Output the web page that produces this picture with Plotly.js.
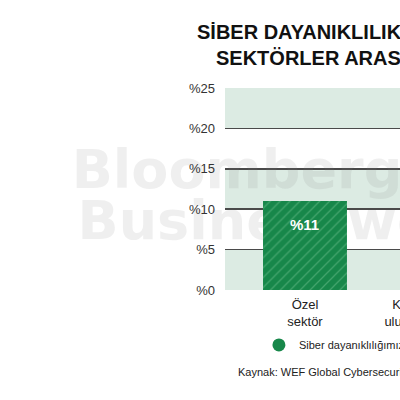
<!DOCTYPE html>
<html>
<head>
<meta charset="utf-8">
<script src="https://cdn.plot.ly/plotly-3.0.1.min.js"></script>
<style>
html, body { margin: 0; padding: 0; width: 400px; height: 400px; overflow: hidden; background: #fff; }
#chart { width: 500px; height: 400px; }
</style>
</head>
<body>
<div id="chart"></div>
<script>
// ---- data ----
const categories = ["Özel<br>sektör", "Kamu ve<br>uluslararası"];
const values = [11, null];
const seriesName = "Siber dayanıklılığımız yetersiz";
const tickValues = [0, 5, 10, 15, 20, 25];
const tickLabels = ["%0", "%5", "%10", "%15", "%20", "%25"];
const bands = [[0, 5], [10, 15], [20, 25]];
const titleLine1 = "SİBER DAYANIKLILIK";
const titleLine2 = "SEKTÖRLER ARASI";
const sourceText = "Kaynak: WEF Global Cybersecurity Outlook 2024";
const watermarkLines = ["Bloomberg", "Businessweek"];

const FONT = "Liberation Sans, Arial, sans-serif";
const barColor = "#17874a";
const stripeColor = "#6fc18f";
const bandColor = "#dcebe3";

const traces = [
  {
    type: "scatter", mode: "text", xaxis: "x", yaxis: "y",
    x: [0.047, 0.262], y: [0.574, 0.317],
    text: watermarkLines, textposition: "middle center",
    textfont: { family: "DejaVu Sans", size: 54, color: "rgba(120,120,120,0.12)", weight: "bold" },
    cliponaxis: false, showlegend: false, hoverinfo: "skip"
  },
  {
    type: "bar", xaxis: "x2", yaxis: "y2",
    x: categories, y: values, width: 0.743,
    marker: {
      color: barColor,
      line: { width: 0 },
      pattern: { shape: "/", fillmode: "overlay", fgcolor: stripeColor, bgcolor: barColor, size: 7, solidity: 0.18 }
    },
    showlegend: false, hoverinfo: "skip"
  },
  {
    type: "scatter", mode: "markers", xaxis: "x2", yaxis: "y2",
    x: [null], y: [null], name: seriesName,
    marker: { color: barColor, size: 13, symbol: "circle" }
  }
];

const shapes = bands.map(b => ({
  type: "rect", xref: "paper", yref: "y2", x0: 0, x1: 1, y0: b[0], y1: b[1],
  fillcolor: bandColor, line: { width: 0 }, layer: "below"
}));

const annotations = values.map((v, i) => v == null ? null : ({
  xref: "x2", yref: "y2", x: categories[i], y: v, yshift: -23,
  text: "%" + v, showarrow: false,
  font: { family: FONT, size: 15, color: "#ffffff", weight: "bold" }
})).filter(a => a);

annotations.push({
  xref: "paper", yref: "paper", x: -0.043, y: 1.149, xanchor: "left", yanchor: "middle",
  text: titleLine2, showarrow: false,
  font: { family: FONT, size: 20, color: "#111111", weight: "bold" }
});
annotations.push({
  xref: "paper", yref: "paper", x: 0.043, y: -0.406, xanchor: "left", yanchor: "middle",
  text: sourceText, showarrow: false,
  font: { family: FONT, size: 11, color: "#222222" }
});

const layout = {
  width: 500, height: 400,
  margin: { l: 225, r: 20, t: 88, b: 110 },
  paper_bgcolor: "#ffffff", plot_bgcolor: "#ffffff",
  font: { family: FONT, color: "#222222" },
  title: {
    text: titleLine1, x: 0.394, xanchor: "left", xref: "container",
    y: 0.92, yanchor: "middle", yref: "container",
    font: { family: FONT, size: 20, color: "#111111", weight: "bold" }
  },
  xaxis: { range: [0, 1], visible: false, fixedrange: true },
  yaxis: { range: [0, 1], visible: false, fixedrange: true },
  xaxis2: {
    overlaying: "x", type: "category", range: [-0.708, 1.549],
    showgrid: false, zeroline: false, showline: false, ticks: "",
    tickfont: { family: FONT, size: 13, color: "#222222" }, ticklabelstandoff: 5
  },
  yaxis2: {
    overlaying: "y", side: "left", range: [0, 25],
    tickvals: tickValues, ticktext: tickLabels,
    showgrid: true, gridcolor: "#4a4a4a", gridwidth: 1.5,
    zeroline: false, showline: false, ticks: "",
    tickfont: { family: FONT, size: 13, color: "#333333" }, ticklabelstandoff: 9
  },
  showlegend: true,
  legend: {
    orientation: "h", x: 0.133, xanchor: "left", y: -0.272, yanchor: "middle",
    font: { family: FONT, size: 11, color: "#222222" }, bgcolor: "rgba(0,0,0,0)"
  },
  shapes: shapes,
  annotations: annotations
};

Plotly.newPlot("chart", traces, layout, { displayModeBar: false, staticPlot: true });
</script>
</body>
</html>
